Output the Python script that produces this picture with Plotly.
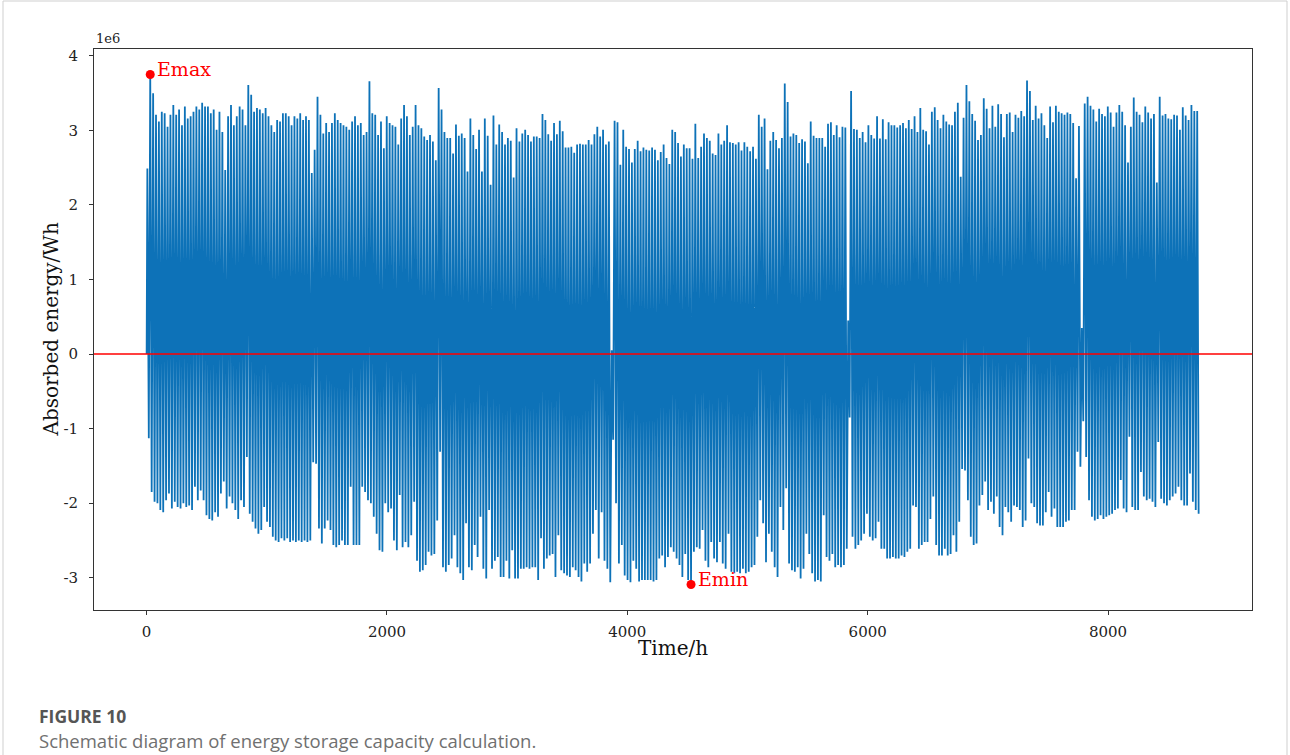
import plotly.graph_objects as go

# ---------------- data (daily maximum / minimum of absorbed energy, unit 1e6 Wh) -------------
PEAK = [
    2.49, 3.75, 3.50, 3.21, 3.12, 3.25, 3.23, 3.05, 3.21, 3.34,   # day 0
    3.21, 3.28, 3.07, 3.32, 3.16, 3.19, 3.25, 3.32, 3.28, 3.37,   # day 10
    3.32, 3.32, 3.23, 3.28, 3.01, 3.25, 2.98, 2.47, 3.19, 3.34,   # day 20
    3.07, 3.19, 3.32, 3.28, 3.07, 3.61, 3.48, 3.25, 3.30, 3.28,   # day 30
    3.23, 3.30, 3.19, 3.07, 2.98, 3.14, 3.12, 3.23, 3.23, 3.19,   # day 40
    3.07, 3.19, 3.16, 3.23, 3.14, 3.19, 3.14, 2.43, 2.74, 3.45,   # day 50
    3.21, 2.96, 3.10, 2.98, 3.10, 3.23, 3.14, 3.10, 3.07, 3.05,   # day 60
    3.01, 3.12, 3.19, 3.07, 3.10, 2.94, 2.98, 3.66, 3.23, 3.21,   # day 70
    2.94, 3.12, 2.76, 3.19, 3.10, 3.07, 3.05, 2.81, 3.16, 3.34,   # day 80
    3.19, 2.94, 3.05, 3.34, 3.07, 3.03, 2.92, 2.87, 2.94, 2.85,   # day 90
    2.60, 3.57, 3.28, 2.98, 2.90, 2.90, 2.69, 3.08, 2.93, 2.96,   # day 100
    2.90, 2.45, 3.16, 2.94, 2.75, 3.01, 2.45, 3.16, 2.93, 2.27,   # day 110
    3.20, 2.81, 3.08, 2.98, 2.81, 2.90, 2.86, 2.37, 3.03, 2.85,   # day 120
    2.96, 3.01, 2.94, 2.85, 2.92, 2.92, 2.90, 3.22, 3.14, 2.95,   # day 130
    2.86, 3.10, 2.95, 3.13, 2.99, 2.77, 2.77, 2.78, 2.70, 2.81,   # day 140
    2.82, 2.81, 2.81, 2.87, 2.81, 2.95, 3.05, 2.92, 3.01, 2.81,   # day 150
    2.85, 0.05, 3.13, 3.11, 2.54, 3.01, 2.78, 2.75, 2.57, 2.75,   # day 160
    2.86, 2.72, 2.77, 2.74, 2.73, 2.77, 2.74, 2.60, 2.71, 2.81,   # day 170
    2.63, 2.55, 3.01, 2.98, 2.83, 2.65, 2.81, 2.76, 2.76, 2.62,   # day 180
    3.09, 2.63, 2.78, 2.96, 2.90, 2.86, 2.69, 2.67, 2.96, 2.81,   # day 190
    2.86, 3.07, 2.84, 2.83, 2.81, 2.84, 2.73, 2.84, 2.78, 2.72,   # day 200
    2.78, 2.62, 3.21, 3.05, 3.16, 2.48, 2.86, 2.98, 2.87, 2.76,   # day 210
    2.90, 3.63, 3.38, 2.92, 2.96, 2.94, 2.83, 2.88, 2.85, 2.56,   # day 220
    3.12, 2.93, 2.90, 2.90, 2.90, 2.78, 3.09, 3.11, 2.94, 3.07,   # day 230
    2.91, 3.05, 3.04, 0.45, 3.53, 3.02, 3.01, 2.90, 2.98, 2.84,   # day 240
    3.07, 2.94, 2.89, 3.19, 2.89, 3.15, 2.88, 3.11, 3.07, 3.07,   # day 250
    3.04, 3.07, 3.10, 3.03, 3.14, 3.02, 3.19, 2.98, 3.30, 3.01,   # day 260
    2.99, 2.81, 3.25, 3.31, 3.14, 3.03, 3.21, 3.12, 3.08, 3.07,   # day 270
    3.25, 3.37, 2.38, 3.17, 3.61, 3.39, 3.22, 3.13, 2.87, 2.94,   # day 280
    3.43, 3.29, 3.03, 3.33, 3.05, 3.35, 3.22, 2.91, 3.22, 3.24,   # day 290
    2.98, 3.21, 3.17, 3.26, 3.19, 3.67, 3.53, 3.14, 3.33, 3.16,   # day 300
    3.23, 3.07, 2.90, 3.32, 3.11, 3.33, 3.25, 3.23, 3.21, 3.24,   # day 310
    3.22, 3.10, 2.36, 3.06, 0.35, 3.36, 3.45, 3.33, 3.28, 3.12,   # day 320
    3.29, 3.22, 3.19, 3.32, 3.24, 3.05, 3.24, 3.34, 3.25, 3.07,   # day 330
    2.57, 3.05, 3.44, 3.25, 3.21, 3.11, 3.32, 3.24, 3.16, 3.22,   # day 340
    2.30, 3.45, 3.20, 3.22, 3.16, 3.15, 3.21, 3.20, 3.01, 3.31,   # day 350
    3.20, 3.14, 3.34, 3.26, 3.26,                                 # day 360
]

TROUGH = [
    -1.13, -1.85, -1.98, -2.00, -2.09, -2.12, -1.96, -1.87, -2.07, -1.98,   # day 0
    -2.05, -2.07, -2.00, -2.05, -2.03, -2.09, -1.78, -1.96, -1.83, -1.96,   # day 10
    -2.16, -2.21, -2.23, -2.12, -2.18, -1.87, -1.71, -2.07, -1.91, -2.00,   # day 20
    -2.09, -2.21, -1.96, -2.05, -1.38, -2.14, -2.25, -2.34, -2.41, -2.36,   # day 30
    -2.05, -2.25, -2.32, -2.45, -2.50, -2.52, -2.47, -2.50, -2.47, -2.52,   # day 40
    -2.50, -2.52, -2.50, -2.52, -2.50, -2.52, -2.50, -1.45, -1.47, -2.34,   # day 50
    -2.54, -2.34, -2.23, -2.36, -2.56, -2.59, -2.56, -2.50, -2.56, -2.56,   # day 60
    -1.78, -2.56, -2.56, -2.56, -1.78, -1.85, -1.96, -2.00, -2.18, -2.41,   # day 70
    -2.63, -2.65, -2.00, -2.12, -2.07, -2.50, -2.63, -1.89, -2.59, -2.52,   # day 80
    -2.59, -2.43, -1.98, -2.77, -2.92, -2.90, -2.83, -2.65, -2.70, -2.68,   # day 90
    -2.23, -1.31, -2.86, -2.92, -2.83, -2.74, -2.43, -2.86, -2.94, -3.03,   # day 100
    -2.27, -2.86, -2.90, -2.56, -2.72, -2.18, -2.88, -3.01, -2.09, -2.88,   # day 110
    -2.77, -2.72, -2.99, -2.99, -2.77, -3.01, -2.63, -3.01, -3.01, -2.88,   # day 120
    -2.88, -2.86, -2.88, -2.86, -2.86, -3.03, -2.47, -2.88, -2.74, -2.70,   # day 130
    -2.68, -2.99, -2.43, -2.90, -2.94, -2.97, -2.99, -2.86, -2.90, -2.99,   # day 140
    -3.05, -2.81, -2.92, -2.81, -2.41, -2.09, -2.74, -2.12, -2.77, -2.88,   # day 150
    -3.06, -1.15, -2.00, -2.81, -2.56, -2.97, -3.03, -3.06, -2.77, -2.88,   # day 160
    -3.05, -3.03, -3.03, -3.03, -3.03, -3.05, -3.03, -2.74, -2.70, -2.86,   # day 170
    -2.72, -2.59, -2.65, -2.74, -2.83, -2.99, -2.68, -3.03, -3.09, -2.65,   # day 180
    -2.59, -2.61, -2.36, -2.77, -2.86, -2.52, -2.74, -2.79, -2.52, -2.81,   # day 190
    -2.88, -2.41, -2.92, -2.94, -2.92, -2.94, -2.88, -2.94, -2.92, -2.86,   # day 200
    -2.83, -2.45, -1.96, -2.27, -2.79, -2.41, -2.65, -2.86, -2.99, -2.05,   # day 210
    -2.36, -1.80, -2.81, -2.90, -2.92, -2.86, -3.01, -2.88, -2.41, -2.68,   # day 220
    -2.94, -3.05, -3.03, -3.05, -2.16, -2.72, -2.77, -2.68, -2.86, -2.83,   # day 230
    -2.86, -2.83, -2.61, -0.85, -2.45, -2.61, -2.56, -2.50, -2.41, -2.14,   # day 240
    -2.45, -2.50, -2.47, -2.25, -2.61, -2.61, -2.74, -2.74, -2.72, -2.74,   # day 250
    -2.74, -2.70, -2.72, -2.65, -2.61, -2.03, -2.05, -2.61, -2.56, -2.52,   # day 260
    -2.52, -2.21, -1.91, -2.56, -2.70, -2.70, -2.61, -2.70, -2.68, -2.43,   # day 270
    -2.65, -2.25, -1.54, -1.56, -1.96, -2.45, -2.56, -2.54, -2.03, -1.89,   # day 280
    -1.71, -2.09, -1.98, -2.14, -1.91, -2.32, -2.43, -2.05, -2.12, -2.25,   # day 290
    -2.03, -2.05, -2.09, -2.32, -2.23, -1.40, -2.00, -2.05, -2.27, -2.30,   # day 300
    -2.30, -2.12, -1.85, -2.18, -2.07, -2.32, -2.32, -2.32, -2.25, -2.23,   # day 310
    -2.09, -2.09, -1.31, -1.51, -0.90, -1.38, -1.96, -2.18, -2.23, -2.21,   # day 320
    -2.16, -2.21, -2.18, -2.16, -2.14, -2.09, -2.07, -1.69, -2.07, -2.12,   # day 330
    -1.11, -2.05, -2.09, -2.09, -1.58, -1.91, -1.96, -1.94, -1.98, -2.05,   # day 340
    -1.18, -1.94, -2.00, -2.03, -1.96, -1.91, -1.87, -1.78, -1.96, -2.03,   # day 350
    -2.03, -1.60, -1.98, -2.09, -2.14,                                      # day 360
]

START_VALUE = 0.0          # absorbed energy at hour 0
UNIT = 1e6                 # values above are in 1e6 Wh
PEAK_HOUR = 6              # hour of the day at which the daily maximum occurs
TROUGH_HOUR = 18           # hour of the day at which the daily minimum occurs

X_TICKS = [0, 2000, 4000, 6000, 8000]
Y_TICKS = [-3, -2, -1, 0, 1, 2, 3, 4]
Y_TICK_TEXT = ["-3", "-2", "-1", "0", "1", "2", "3", "4"]

# ---------------- build hourly series ----------------
hours = [0]
energy = [START_VALUE * UNIT]
for d, (p, t) in enumerate(zip(PEAK, TROUGH)):
    hours += [d * 24 + PEAK_HOUR, d * 24 + TROUGH_HOUR]
    energy += [p * UNIT, t * UNIT]

i_max = max(range(len(PEAK)), key=lambda i: PEAK[i])
i_min = min(range(len(TROUGH)), key=lambda i: TROUGH[i])
emax_x, emax_y = i_max * 24 + PEAK_HOUR, PEAK[i_max] * UNIT
emin_x, emin_y = i_min * 24 + TROUGH_HOUR, TROUGH[i_min] * UNIT

x_end = len(PEAK) * 24
x_pad = 0.05 * x_end
y_lo, y_hi = min(energy), max(energy)
y_pad = 0.05 * (y_hi - y_lo)

SERIF = "DejaVu Serif"
BLUE = "#0d72b8"

fig = go.Figure()
fig.add_trace(go.Scatter(x=hours, y=energy, mode="lines",
                         line=dict(color=BLUE, width=1.8), showlegend=False,
                         hoverinfo="skip"))
fig.add_trace(go.Scatter(x=[emax_x, emin_x], y=[emax_y, emin_y], mode="markers",
                         marker=dict(color="#ff0000", size=9), showlegend=False))

axis_common = dict(showline=True, linecolor="#333333", linewidth=1, mirror=True,
                   ticks="outside", ticklen=4, tickcolor="#333333", tickwidth=1,
                   showgrid=False, zeroline=False,
                   tickfont=dict(family=SERIF, size=15, color="#222222"))

fig.update_layout(
    width=1290, height=755,
    margin=dict(l=94, r=38, t=49, b=145),
    paper_bgcolor="white", plot_bgcolor="white",
    xaxis=dict(range=[-x_pad, x_end + x_pad], tickvals=X_TICKS, ticklabelstandoff=4,
               **axis_common),
    yaxis=dict(range=[y_lo - y_pad, y_hi + y_pad], tickvals=[v * UNIT for v in Y_TICKS],
               ticktext=Y_TICK_TEXT, ticklabelstandoff=8, **axis_common),
    shapes=[
        dict(type="line", xref="paper", x0=0, x1=1, yref="y", y0=0, y1=0,
             line=dict(color="#ff0000", width=1.5), layer="above"),
        dict(type="rect", xref="paper", yref="paper",
             x0=(3 - 94) / 1158, x1=(1287 - 94) / 1158,
             y0=(610 - 770) / 561, y1=(610 - 1) / 561,
             line=dict(color="#cfcfcf", width=1), fillcolor="rgba(0,0,0,0)", layer="below"),
    ],
    annotations=[
        dict(x=emax_x, y=emax_y, xref="x", yref="y", text="Emax", showarrow=False,
             xanchor="left", yanchor="middle", xshift=5, yshift=6,
             font=dict(family=SERIF, size=19, color="#ff0000")),
        dict(x=emin_x, y=emin_y, xref="x", yref="y", text="Emin", showarrow=False,
             xanchor="left", yanchor="middle", xshift=5, yshift=6,
             font=dict(family=SERIF, size=19, color="#ff0000")),
        dict(x=0, y=1, xref="paper", yref="paper", text="1e6", showarrow=False,
             xanchor="left", yanchor="bottom", yshift=1,
             font=dict(family=SERIF, size=13, color="#222222")),
        dict(x=0.5, y=(610 - 648) / 561, xref="paper", yref="paper", text="Time/h",
             showarrow=False, xanchor="center", yanchor="middle",
             font=dict(family=SERIF, size=20, color="#111111")),
        dict(x=(50 - 94) / 1158, y=0.5, xref="paper", yref="paper",
             text="Absorbed energy/Wh", textangle=-90, showarrow=False,
             xanchor="center", yanchor="middle",
             font=dict(family=SERIF, size=20, color="#111111")),
        dict(x=(37 - 94) / 1158, y=(610 - 716) / 561, xref="paper", yref="paper",
             text="<b>FIGURE 10</b>", showarrow=False, xanchor="left", yanchor="middle",
             font=dict(family="Open Sans", size=17.5, color="#555555")),
        dict(x=(37 - 94) / 1158, y=(610 - 740) / 561, xref="paper", yref="paper",
             text="Schematic diagram of energy storage capacity calculation.",
             showarrow=False, xanchor="left", yanchor="middle",
             font=dict(family="Open Sans", size=18.5, color="#707070")),
    ],
)

fig.write_html("out.html", config={"displayModeBar": False},
               post_script="document.body.style.margin='0';document.body.style.overflow='hidden';")
